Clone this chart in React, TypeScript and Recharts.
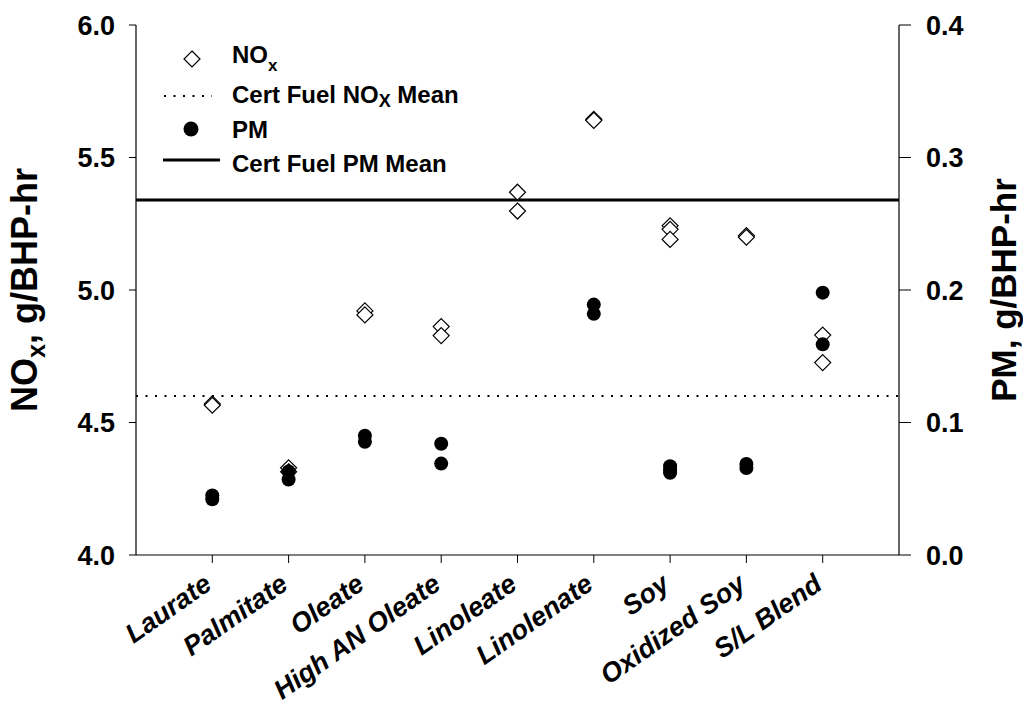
import React from 'react';
import { ScatterChart, Scatter, XAxis, YAxis, ReferenceLine } from 'recharts';

// Fuels tested, in plotting order (x positions 1..9)
const fuels = [
  'Laurate',
  'Palmitate',
  'Oleate',
  'High AN Oleate',
  'Linoleate',
  'Linolenate',
  'Soy',
  'Oxidized Soy',
  'S/L Blend',
];

// Repeat NOx measurements per fuel, g/BHP-hr
const noxValues: number[][] = [
  [4.57, 4.565],
  [4.329, 4.314],
  [4.921, 4.906],
  [4.862, 4.828],
  [5.369, 5.298],
  [5.644, 5.64],
  [5.242, 5.229, 5.191],
  [5.205, 5.199],
  [4.83, 4.726],
];

// Repeat PM measurements per fuel, g/BHP-hr
const pmValues: number[][] = [
  [0.045, 0.042],
  [0.063, 0.057],
  [0.09, 0.0855],
  [0.084, 0.069],
  [],
  [0.189, 0.182],
  [0.067, 0.064, 0.062],
  [0.0687, 0.0657],
  [0.198, 0.159],
];

const certNoxMean = 4.6;
const certPmMean = 0.268;

const noxTicks = [4.0, 4.5, 5.0, 5.5, 6.0];
const pmTicks = [0.0, 0.1, 0.2, 0.3, 0.4];
const fuelPositions = fuels.map((_, i) => i + 1);

const noxPoints = noxValues.flatMap((vals, i) => vals.map((v) => ({ pos: i + 1, value: v })));
const pmPoints = pmValues.flatMap((vals, i) => vals.map((v) => ({ pos: i + 1, value: v })));

const FONT = "'Liberation Sans', Arial, Helvetica, sans-serif";

const OpenDiamond = (props: any) => {
  const { cx, cy } = props;
  const h = 8;
  return (
    <path
      d={`M${cx},${cy - h}L${cx + h},${cy}L${cx},${cy + h}L${cx - h},${cy}Z`}
      fill="#fff"
      stroke="#000"
      strokeWidth={1.2}
    />
  );
};

const FilledDot = (props: any) => {
  const { cx, cy } = props;
  return <circle cx={cx} cy={cy} r={7} fill="#000" />;
};

const FuelTick = (props: any) => {
  const { x, y, payload } = props;
  const label = fuels[Math.round(payload.value) - 1] ?? '';
  const ax = x + 1;
  const ay = y + 23;
  return (
    <text
      x={ax}
      y={ay}
      transform={`rotate(-35 ${ax} ${ay})`}
      textAnchor="end"
      fontFamily={FONT}
      fontSize={27}
      fontWeight="bold"
      fontStyle="italic"
      fill="#000"
    >
      {label}
    </text>
  );
};

const NoxTitle = (props: any) => {
  const vb = props.viewBox ?? { x: 0, y: 25, width: 136, height: 530 };
  const cx = vb.x + 37;
  const cy = vb.y + vb.height / 2;
  return (
    <text
      x={cx}
      y={cy}
      transform={`rotate(-90 ${cx} ${cy})`}
      textAnchor="middle"
      fontFamily={FONT}
      fontSize={36}
      fontWeight="bold"
      fill="#000"
    >
      NO
      <tspan fontSize={25} dy={8}>x</tspan>
      <tspan dy={-8}>, g/BHP-hr</tspan>
    </text>
  );
};

const PmTitle = (props: any) => {
  const vb = props.viewBox ?? { x: 899, y: 25, width: 124, height: 530 };
  const cx = vb.x + 117;
  const cy = vb.y + vb.height / 2;
  return (
    <text
      x={cx}
      y={cy}
      transform={`rotate(-90 ${cx} ${cy})`}
      textAnchor="middle"
      fontFamily={FONT}
      fontSize={35}
      fontWeight="bold"
      fill="#000"
    >
      PM, g/BHP-hr
    </text>
  );
};

const LegendBox = () => (
  <svg
    width={1023}
    height={200}
    style={{ position: 'absolute', left: 0, top: 0, pointerEvents: 'none' }}
  >
    <g fontFamily={FONT} fontWeight="bold" fontSize={24} fill="#000">
      <path d="M192,51L200,59L192,67L184,59Z" fill="#fff" stroke="#000" strokeWidth={1.2} />
      <text x={232} y={63}>
        NO<tspan fontSize={17} dy={8}>x</tspan>
      </text>

      <line x1={164} y1={96} x2={212} y2={96} stroke="#000" strokeWidth={2} strokeDasharray="2 7.5" />
      <text x={232} y={103}>
        Cert Fuel NO<tspan fontSize={18} dy={4}>X</tspan>
        <tspan dy={-4}> Mean</tspan>
      </text>

      <circle cx={191} cy={129} r={7.5} fill="#000" />
      <text x={232} y={138}>PM</text>

      <line x1={163} y1={160} x2={220} y2={160} stroke="#000" strokeWidth={3} />
      <text x={232} y={172}>Cert Fuel PM Mean</text>
    </g>
  </svg>
);

export default function App() {
  return (
    <div style={{ position: 'absolute', left: 0, top: 0, width: 1023, height: 705, background: '#fff' }}>
      <ScatterChart width={1023} height={705} margin={{ top: 25, right: 0, bottom: 0, left: 0 }}>
        <XAxis
          xAxisId="fuel"
          dataKey="pos"
          type="number"
          domain={[0, 10]}
          ticks={fuelPositions}
          interval={0}
          height={150}
          tickSize={8}
          tickMargin={2}
          tick={<FuelTick />}
          axisLine={{ stroke: '#000', strokeWidth: 1.2 }}
          tickLine={{ stroke: '#000', strokeWidth: 1 }}
        />
        <XAxis
          xAxisId="frame"
          orientation="top"
          type="number"
          domain={[0, 10]}
          ticks={[]}
          height={0}
          tick={false}
          tickLine={false}
          axisLine={{ stroke: '#000', strokeWidth: 1.2 }}
        />
        <YAxis
          yAxisId="nox"
          dataKey="value"
          type="number"
          domain={[4, 6]}
          ticks={noxTicks}
          interval={0}
          width={136}
          tickSize={7}
          tickMargin={14}
          tickFormatter={(v: number) => v.toFixed(1)}
          tick={{ fontFamily: FONT, fontSize: 27, fontWeight: 'bold', fill: '#000' }}
          axisLine={{ stroke: '#000', strokeWidth: 1.2 }}
          tickLine={{ stroke: '#000', strokeWidth: 1 }}
          label={<NoxTitle />}
        />
        <YAxis
          yAxisId="pm"
          orientation="right"
          dataKey="value"
          type="number"
          domain={[0, 0.4]}
          ticks={pmTicks}
          interval={0}
          width={124}
          tickSize={12}
          tickMargin={15}
          tickFormatter={(v: number) => v.toFixed(1)}
          tick={{ fontFamily: FONT, fontSize: 27, fontWeight: 'bold', fill: '#000' }}
          axisLine={{ stroke: '#000', strokeWidth: 1.2 }}
          tickLine={{ stroke: '#000', strokeWidth: 1 }}
          label={<PmTitle />}
        />
        <ReferenceLine
          xAxisId="fuel"
          yAxisId="nox"
          y={certNoxMean}
          stroke="#000"
          strokeWidth={2}
          strokeDasharray="2 7.5"
        />
        <ReferenceLine xAxisId="fuel" yAxisId="pm" y={certPmMean} stroke="#000" strokeWidth={3} />
        <Scatter
          name="NOx"
          data={noxPoints}
          xAxisId="fuel"
          yAxisId="nox"
          shape={<OpenDiamond />}
          isAnimationActive={false}
        />
        <Scatter
          name="PM"
          data={pmPoints}
          xAxisId="fuel"
          yAxisId="pm"
          shape={<FilledDot />}
          isAnimationActive={false}
        />
      </ScatterChart>
      <LegendBox />
    </div>
  );
}
